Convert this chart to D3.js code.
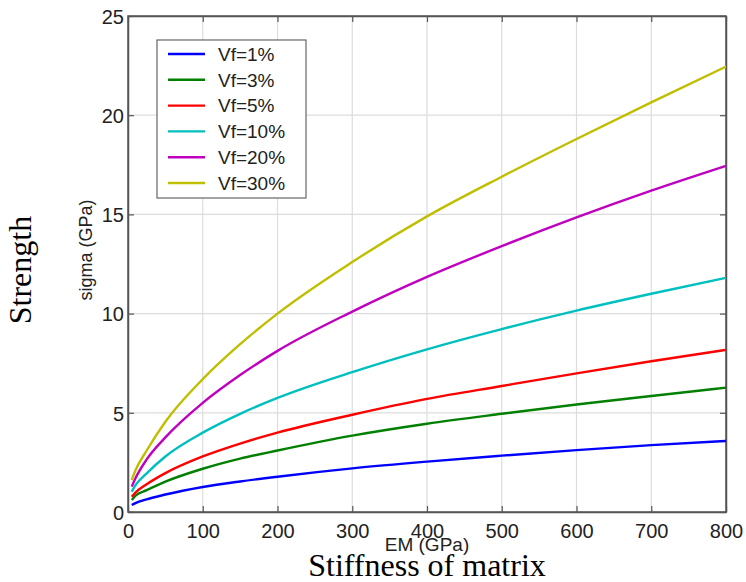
<!DOCTYPE html>
<html lang="en">
<head>
    <meta charset="UTF-8">
    <title>sigma vs EM</title>
    <script src="https://d3js.org/d3.v7.min.js"></script>
    <style>
        body { margin: 0; background: #fff; }
        .tick text { font-family: "Liberation Sans", Arial, sans-serif; font-size: 20px; fill: #222; }
        .serif { font-family: "Liberation Serif", "Times New Roman", serif; }
    </style>
</head>
<body>
<script>
    // data
    var em = [5, 10, 25, 50, 100, 150, 200, 300, 400, 500, 600, 700, 800];
    var vf1  = [0.35, 0.45, 0.64, 0.88, 1.26, 1.54, 1.78, 2.20, 2.54, 2.84, 3.12, 3.37, 3.58];
    var vf3  = [0.60, 0.82, 1.10, 1.53, 2.18, 2.69, 3.10, 3.85, 4.45, 4.95, 5.42, 5.85, 6.27];
    var vf5  = [0.77, 0.98, 1.40, 1.96, 2.80, 3.45, 4.00, 4.90, 5.70, 6.35, 6.99, 7.60, 8.17];
    var vf10 = [1.02, 1.35, 1.95, 2.80, 4.00, 4.95, 5.75, 7.05, 8.20, 9.22, 10.15, 11.00, 11.80];
    var vf20 = [1.28, 1.70, 2.65, 3.76, 5.50, 6.90, 8.12, 10.10, 11.85, 13.40, 14.85, 16.20, 17.45];
    var vf30 = [1.61, 2.10, 3.10, 4.55, 6.70, 8.46, 10.00, 12.60, 14.90, 16.90, 18.80, 20.65, 22.45];
    var labels = ["Vf=1%", "Vf=3%", "Vf=5%", "Vf=10%", "Vf=20%", "Vf=30%"];
    var colors = ["#0000ff", "#008000", "#ff0000", "#00bfbf", "#bf00bf", "#bfbf00"];
    var xTicks = [0, 100, 200, 300, 400, 500, 600, 700, 800];
    var yTicks = [0, 5, 10, 15, 20, 25];

    var series = [vf1, vf3, vf5, vf10, vf20, vf30];

    var width = 746, height = 582;
    var pL = 128, pR = 726, pT = 16, pB = 512;

    var svg = d3.select("body").append("svg")
        .attr("width", width)
        .attr("height", height);

    var x = d3.scaleLinear().domain([0, 800]).range([pL, pR]);
    var y = d3.scaleLinear().domain([0, 25]).range([pB, pT]);

    // grid
    var grid = svg.append("g");
    grid.selectAll(".gx").data(xTicks.slice(1, -1)).enter().append("line")
        .attr("x1", d => x(d)).attr("x2", d => x(d))
        .attr("y1", pT).attr("y2", pB)
        .attr("stroke", "#dcdcdc").attr("stroke-width", 1.2);
    grid.selectAll(".gy").data(yTicks.slice(1, -1)).enter().append("line")
        .attr("y1", d => y(d)).attr("y2", d => y(d))
        .attr("x1", pL).attr("x2", pR)
        .attr("stroke", "#dcdcdc").attr("stroke-width", 1.2);

    // axes, ticks pointing inward like matlab
    var xAxis = d3.axisBottom(x).tickValues(xTicks).tickSizeInner(-6).tickSizeOuter(0).tickPadding(12);
    var yAxis = d3.axisLeft(y).tickValues(yTicks).tickSizeInner(-6).tickSizeOuter(0).tickPadding(4);

    var gx = svg.append("g").attr("transform", "translate(0," + pB + ")").call(xAxis);
    var gy = svg.append("g").attr("transform", "translate(" + pL + ",0)").call(yAxis);
    svg.append("g").attr("transform", "translate(0," + pT + ")")
        .call(d3.axisTop(x).tickValues(xTicks).tickSizeInner(-6).tickSizeOuter(0).tickFormat(""));
    svg.append("g").attr("transform", "translate(" + pR + ",0)")
        .call(d3.axisRight(y).tickValues(yTicks).tickSizeInner(-6).tickSizeOuter(0).tickFormat(""));
    svg.selectAll(".domain").attr("stroke", "#555").attr("stroke-width", 1.5);
    svg.selectAll(".tick line").attr("stroke", "#555").attr("stroke-width", 1.2);
    gy.selectAll(".tick text").attr("dy", "0.36em");

    // box
    svg.append("rect")
        .attr("x", pL).attr("y", pT)
        .attr("width", pR - pL).attr("height", pB - pT)
        .attr("fill", "none").attr("stroke", "#555").attr("stroke-width", 1.5);

    // curves
    var line = d3.line()
        .x((d, i) => x(em[i]))
        .y(d => y(d))
        .curve(d3.curveMonotoneX);

    svg.append("g").selectAll("path")
        .data(series)
        .enter()
        .append("path")
        .attr("d", line)
        .attr("fill", "none")
        .attr("stroke", (d, i) => colors[i])
        .attr("stroke-width", 2.4);

    // legend
    var lg = svg.append("g");
    lg.append("rect")
        .attr("x", 157).attr("y", 40)
        .attr("width", 149).attr("height", 158)
        .attr("fill", "#fff").attr("stroke", "#666").attr("stroke-width", 1.2);
    labels.forEach(function(t, i) {
        var yy = 54 + i * 25.8;
        lg.append("line")
            .attr("x1", 168).attr("x2", 205)
            .attr("y1", yy).attr("y2", yy)
            .attr("stroke", colors[i]).attr("stroke-width", 2.4);
        lg.append("text")
            .attr("x", 218).attr("y", yy)
            .attr("dy", "0.36em")
            .style("font-family", "Liberation Sans, Arial, sans-serif")
            .style("font-size", "19px")
            .attr("fill", "#222")
            .text(t);
    });

    // axis labels
    svg.append("text")
        .attr("x", (pL + pR) / 2).attr("y", 551)
        .attr("text-anchor", "middle")
        .style("font-family", "Liberation Sans, Arial, sans-serif")
        .style("font-size", "19px")
        .attr("fill", "#222")
        .text("EM (GPa)");
    svg.append("text")
        .attr("transform", "translate(92,250) rotate(-90)")
        .attr("text-anchor", "middle")
        .style("font-family", "Liberation Sans, Arial, sans-serif")
        .style("font-size", "18px")
        .attr("fill", "#222")
        .text("sigma (GPa)");

    svg.append("text")
        .attr("class", "serif")
        .attr("x", (pL + pR) / 2).attr("y", 576)
        .attr("text-anchor", "middle")
        .style("font-size", "32px")
        .attr("fill", "#000")
        .text("Stiffness of matrix");
    svg.append("text")
        .attr("class", "serif")
        .attr("transform", "translate(31,270) rotate(-90)")
        .attr("text-anchor", "middle")
        .style("font-size", "32px")
        .attr("fill", "#000")
        .text("Strength");
</script>
</body>
</html>
